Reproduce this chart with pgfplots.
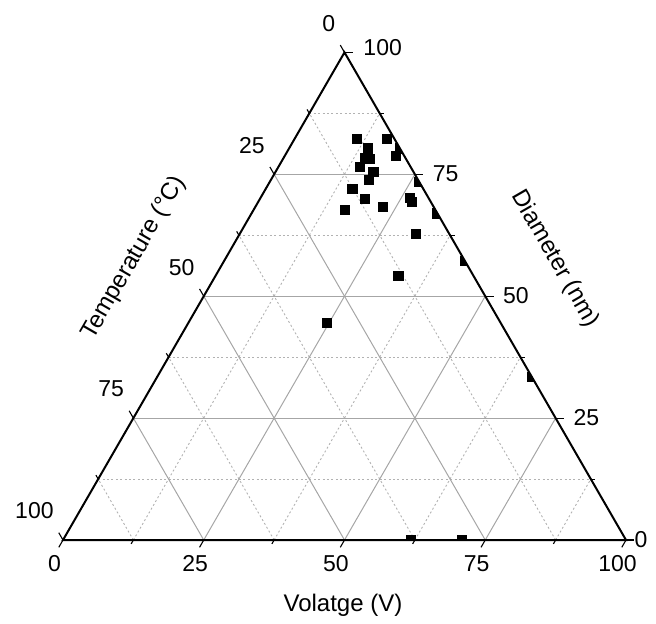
\documentclass[border=0pt]{standalone}
\usepackage{fontspec}
\setmainfont{Liberation Sans}
\usepackage{pgfplots}
\pgfplotsset{compat=1.18}
\usepackage{pgfplotstable}

% ternary data: Voltage V, Temperature T, Diameter D (V+T+D = 100)
\pgfplotstableread{
V T D
11.05 6.70 82.25
16.41 1.41 82.18
14.06 5.61 80.33
19.70 0.00 80.30
19.74 1.44 78.82
14.49 7.22 78.29
15.49 6.43 78.08
14.47 8.96 76.57
17.35 7.11 75.54
17.48 8.69 73.83
15.40 12.62 71.98
18.70 11.42 69.88
22.71 8.93 68.36
16.25 16.07 67.68
26.53 3.26 70.21
27.41 3.33 69.26
26.50 0.00 73.50
33.00 0.00 67.00
31.35 5.95 62.70
42.70 0.00 57.30
32.49 13.37 54.14
24.65 30.78 44.57
66.60 0.00 33.40
61.76 38.24 0.00
70.82 29.18 0.00
}\datatable

\tikzset{
  gmaj/.style={black!35, line width=0.5pt},
  gmin/.style={black!30, line width=0.45pt, dash pattern=on 1pt off 1.2pt},
  tk/.style={black, line width=0.55pt},
  tl/.style={font=\fontsize{11.5}{13}\selectfont, inner sep=0pt},
}

\begin{document}
\begin{tikzpicture}
\begin{axis}[
  set layers,
  scale only axis, width=328pt, height=311.5pt,
  xmin=-11.19, xmax=105.33, ymin=-14.74, ymax=95.91,
  hide axis, clip=false,
]
\begin{pgfonlayer}{axis background}
% minor grid
\pgfplotsinvokeforeach{12.5,37.5,62.5,87.5}{
  \draw[gmin] ({#1/2},{0.8660254*#1}) -- ({100-#1/2},{0.8660254*#1});
  \draw[gmin] (#1,0) -- ({50+#1/2},{0.8660254*(100-#1)});
  \draw[gmin] ({100-#1},0) -- ({(100-#1)/2},{0.8660254*(100-#1)});
}
% major grid
\pgfplotsinvokeforeach{25,50,75}{
  \draw[gmaj] ({#1/2},{0.8660254*#1}) -- ({100-#1/2},{0.8660254*#1});
  \draw[gmaj] (#1,0) -- ({50+#1/2},{0.8660254*(100-#1)});
  \draw[gmaj] ({100-#1},0) -- ({(100-#1)/2},{0.8660254*(100-#1)});
}
\end{pgfonlayer}
% data
\addplot[only marks, mark=square*, mark size=2.3pt, black]
  table[x expr=\thisrow{V}+0.5*\thisrow{D}, y expr=0.8660254*\thisrow{D}] {\datatable};
\begin{pgfonlayer}{axis foreground}
% masks outside triangle
\fill[white] (-11.19,-14.74) -- (0,0) -- (50,86.6025) -- (50,95.91) -- (-11.19,95.91) -- cycle;
\fill[white] (105.33,-14.74) -- (100,0) -- (50,86.6025) -- (50,95.91) -- (105.33,95.91) -- cycle;
\fill[white] (-11.19,-14.74) -- (105.33,-14.74) -- (100,0) -- (0,0) -- cycle;
% triangle
\draw[black, line width=1pt, line join=miter] (0,0) -- (100,0) -- (50,86.6025) -- cycle;
% major ticks
\pgfplotsinvokeforeach{0,25,50,75,100}{
  \draw[tk] (#1,0) -- ({#1-0.75},-1.299);
  \draw[tk] ({(100-#1)/2},{0.8660254*(100-#1)}) -- ({(100-#1)/2-0.75},{0.8660254*(100-#1)+1.299});
  \draw[tk] ({100-#1/2},{0.8660254*#1}) -- ({100-#1/2+1.5},{0.8660254*#1});
}
% minor ticks
\pgfplotsinvokeforeach{12.5,37.5,62.5,87.5}{
  \draw[tk] (#1,0) -- ({#1-0.4},-0.693);
  \draw[tk] ({(100-#1)/2},{0.8660254*(100-#1)}) -- ({(100-#1)/2-0.4},{0.8660254*(100-#1)+0.693});
  \draw[tk] ({100-#1/2},{0.8660254*#1}) -- ({100-#1/2+0.8},{0.8660254*#1});
}
% tick labels
\pgfplotsinvokeforeach{0,25,50,75,100}{
  \node[tl, anchor=center] at ({#1-1.51},-4.26) {#1};
  \node[tl, anchor=east] at ({(100-#1)/2-1.6},{0.8660254*(100-#1)+5.15}) {#1};
}
\pgfplotsinvokeforeach{25,50,75}{
  \node[tl, anchor=west] at ({100-#1/2+3.11},{0.8660254*#1+0.18}) {#1};
}
\node[tl, anchor=west] at (53.3,87.5) {100};
\node[tl, anchor=center] at (102.66,0) {0};
% axis titles
\node[font=\fontsize{12}{14}\selectfont] at (49.73,-11.55) {Volatge (V)};
\node[font=\fontsize{12}{14}\selectfont, rotate=60] at (12.61,50.09) {Temperature (°C)};
\node[font=\fontsize{12}{14}\selectfont, rotate=-60] at (87.39,49.91) {Diameter (nm)};
\end{pgfonlayer}
\end{axis}
\end{tikzpicture}
\end{document}
